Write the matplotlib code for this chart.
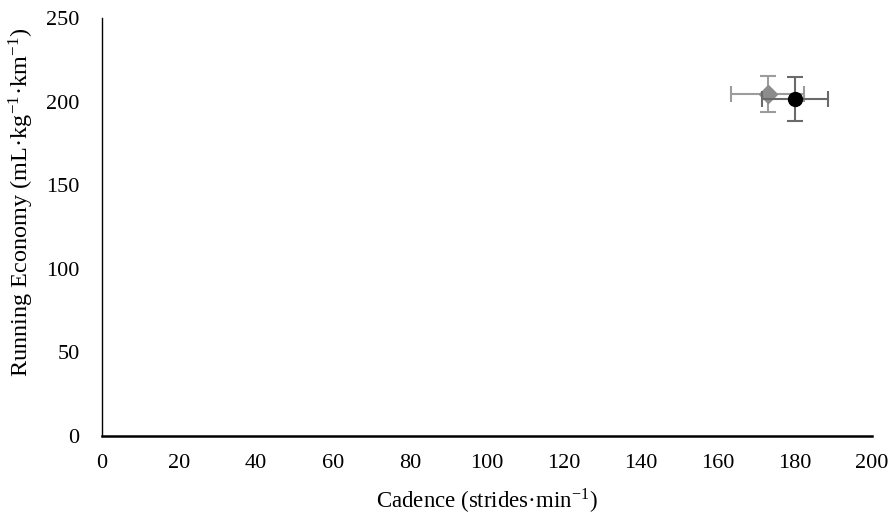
import matplotlib
matplotlib.use('Agg')
import matplotlib.pyplot as plt

plt.rcParams['font.family'] = ['Liberation Serif', 'DejaVu Serif']
plt.rcParams['mathtext.fontset'] = 'stix'

# data
cadence = [173, 180]
cadence_sd = [9.5, 8.5]
economy = [204.5, 201.5]
economy_sd = [11, 13]
marker_style = ['D', 'o']
marker_color = ['#8c8c8c', '#000000']
bar_color = ['#9c9c9c', '#6a6a6a']

x_ticks = list(range(0, 201, 20))
y_ticks = list(range(0, 251, 50))

fig = plt.figure(figsize=(8.96, 5.25), dpi=100)
ax = fig.add_axes([0.1138, 0.1695, 0.8592, 0.7962])

for i in range(len(cadence)):
    ax.errorbar(cadence[i], economy[i], xerr=cadence_sd[i], yerr=economy_sd[i],
                fmt=marker_style[i], color=marker_color[i], ecolor=bar_color[i],
                markersize=10 if marker_style[i] == 'o' else 9,
                elinewidth=1.5, capsize=5.5, capthick=1.5, zorder=3 + i)

ax.set_xlim(0, 200)
ax.set_ylim(0, 250)
ax.set_xticks(x_ticks)
ax.set_yticks(y_ticks)
ax.tick_params(length=0, labelsize=16)
ax.tick_params(axis='x', pad=13)
ax.tick_params(axis='y', pad=16)
ax.spines['top'].set_visible(False)
ax.spines['right'].set_visible(False)
ax.spines['bottom'].set_linewidth(1.8)
ax.spines['left'].set_linewidth(1.0)

ax.set_xlabel(r'Cadence (strides·min$^{\mathregular{-1}}$)', fontsize=16.5, labelpad=10)
ax.set_ylabel(r'Running Economy (mL·kg$^{\mathregular{-1}}$·km$^{\mathregular{-1}}$)', fontsize=17.5)
ax.yaxis.set_label_coords(-0.0855, 0.56)

fig.savefig('out.png', dpi=100)
